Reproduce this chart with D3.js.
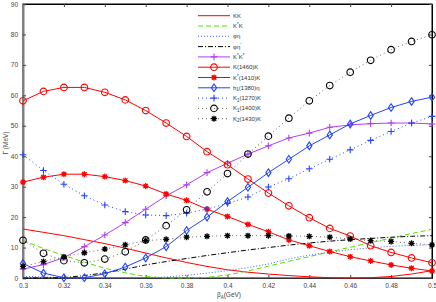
<!DOCTYPE html>
<html>
<head>
<script src="https://d3js.org/d3.v7.min.js"></script>
<style>
  body { margin: 0; background: #fff; }
  text { font-family: "Liberation Sans", Arial, sans-serif; }
</style>
</head>
<body>
<script>
// beta values (GeV)
const betas = [0.30,0.31,0.32,0.33,0.34,0.35,0.36,0.37,0.38,0.39,0.40,0.41,0.42,0.43,0.44,0.45,0.46,0.47,0.48,0.49,0.50];

// partial widths (MeV)
const KK        = [16.1,15.0,13.9,12.6,11.3,9.8,8.2,6.6,5.1,3.8,2.7,1.9,1.3,0.8,0.4,0.1,0.0,0.1,0.5,1.3,2.4];
const KstarK    = [12.3,9.7,7.4,5.2,3.2,1.7,0.5,0.0,0.0,0.2,1.0,2.3,3.9,5.5,7.0,8.6,10.1,11.6,13.1,14.6,16.0];
const phiEta    = [0.6,0.3,0.1,0,0,0,0.1,0.3,0.9,1.6,2.4,3.4,4.6,6.3,7.5,8.5,9.3,9.9,10.4,10.7,10.9];
const phiEtaP   = [0,0,0.1,0.8,1.7,2.9,4.3,5.4,6.4,7.4,8.3,9.2,10.0,10.8,11.5,12.1,12.6,13.0,13.4,13.7,13.9];
const KsKs      = [2.9,4.4,6.7,10.3,14.1,18.2,22.6,27.0,30.6,34.6,37.7,40.7,43.4,46.0,47.6,49.5,50.3,50.7,50.9,50.9,50.6];
const K1460K    = [58.2,61.3,62.6,62.6,61.0,58.5,55.0,50.9,46.5,41.5,37.2,32.5,27.9,23.7,19.8,16.3,13.8,10.6,8.4,6.6,5.0];
const Ks1410K   = [31.5,33.1,34.1,34.1,33.3,32.0,30.2,27.6,25.5,22.6,20.2,17.6,15.2,12.5,10.6,8.7,7.0,5.6,4.3,3.2,2.3];
const h1Eta     = [4.8,1.6,0.1,0.1,1.4,3.6,6.6,10.3,15.6,20.0,25.1,29.8,34.6,39.0,43.4,47.0,50.6,53.4,56.0,58.0,59.4];
const K1270K    = [40.5,35.3,30.8,27.0,24.0,21.8,20.7,20.5,21.3,22.6,24.5,26.6,29.9,32.6,35.9,39.0,42.1,45.2,48.1,50.9,53.1];
const K1400K    = [12.4,8.1,5.7,5.0,6.2,8.6,12.5,17.2,22.4,28.3,34.3,40.7,46.6,52.5,58.2,63.2,67.6,71.5,75.0,77.7,79.9];
const K1430K    = [3.8,5.4,6.9,8.3,9.5,10.9,12.3,12.7,13.4,13.7,13.9,13.9,13.9,13.8,13.7,13.4,12.8,12.3,12.0,11.4,10.9];

const xTicks = [0.30,0.32,0.34,0.36,0.38,0.40,0.42,0.44,0.46,0.48,0.50];
const yTicks = [0,10,20,30,40,50,60,70,80,90];

const series = [
  {name: [["K"],["K"]], values: KK, color: "#ff0000", dash: null, marker: null},
  {name: [["K"],["*","sup"],["K"]], values: KstarK, color: "#55dd00", dash: "5,3", marker: null},
  {name: [["φη"]], values: phiEta, color: "#4060ff", dash: "1,2", marker: null},
  {name: [["φη"],["'","sup"]], values: phiEtaP, color: "#000", dash: "5,2,1,2", marker: null},
  {name: [["K"],["*","sup"],["K"],["*","sup"]], values: KsKs, color: "#b040ee", dash: null, marker: "plus"},
  {name: [["K(1460)K"]], values: K1460K, color: "#ff0000", dash: null, marker: "circle"},
  {name: [["K"],["*","sup"],["(1410)K"]], values: Ks1410K, color: "#ff0000", dash: null, marker: "star"},
  {name: [["h"],["1","sub"],["(1380)η"]], values: h1Eta, color: "#2244ff", dash: null, marker: "diamond"},
  {name: [["K"],["1","sub"],["(1270)K"]], values: K1270K, color: "#2244ff", dash: "1,3", marker: "plus"},
  {name: [["K"],["1","sub"],["(1400)K"]], values: K1400K, color: "#000", dash: "1,3", marker: "circle", lineColor: "#666"},
  {name: [["K"],["2","sub"],["(1430)K"]], values: K1430K, color: "#000", dash: "1,3", marker: "star", lineColor: "#666"}
];

const width = 436, height = 302;
const margin = {left: 23, right: 4, top: 4, bottom: 24};

const svg = d3.select("body").append("svg").attr("width", width).attr("height", height);

const x = d3.scaleLinear().domain([0.3, 0.5]).range([margin.left, width - margin.right]);
const y = d3.scaleLinear().domain([0, 90]).range([height - margin.bottom, margin.top]);

// frame
svg.append("rect")
  .attr("x", x(0.3)).attr("y", y(90))
  .attr("width", x(0.5) - x(0.3)).attr("height", y(0) - y(90))
  .attr("fill", "none").attr("stroke", "#000").attr("stroke-width", 1);

const fmt = d => String(+d.toFixed(2));

// bottom + top axes
const xAxis = svg.append("g").attr("transform", `translate(0,${y(0)})`)
  .call(d3.axisBottom(x).tickValues(xTicks).tickSize(-3).tickPadding(5).tickFormat(fmt));
svg.append("g").attr("transform", `translate(0,${y(90)})`)
  .call(d3.axisTop(x).tickValues(xTicks).tickSize(-3).tickFormat(""));
// left + right axes
const yAxis = svg.append("g").attr("transform", `translate(${x(0.3)},0)`)
  .call(d3.axisLeft(y).tickValues(yTicks).tickSize(-3).tickPadding(5));
svg.append("g").attr("transform", `translate(${x(0.5)},0)`)
  .call(d3.axisRight(y).tickValues(yTicks).tickSize(-3).tickFormat(""));

svg.selectAll(".domain").attr("stroke", "#000");
yAxis.select(".domain").attr("stroke", "#808080").attr("stroke-width", 2);
xAxis.select(".domain").attr("stroke", "#333");
svg.selectAll(".tick line").attr("stroke", "#444");
svg.selectAll(".tick text").attr("font-size", 6.5).attr("fill", "#444");

// axis labels
const xl = svg.append("text").attr("x", 229).attr("y", 297)
  .attr("text-anchor", "middle").attr("font-size", 6.5).attr("fill", "#444");
xl.append("tspan").text("β");
xl.append("tspan").attr("font-size", 4.5).attr("dy", 1.5).text("A");
xl.append("tspan").attr("dy", -1.5).text("(GeV)");

svg.append("text")
  .attr("transform", "translate(8,143) rotate(-90)")
  .attr("text-anchor", "middle").attr("font-size", 6.5).attr("fill", "#444")
  .text("Γ (MeV)");

// markers
function drawMarker(g, type, color) {
  if (type === "circle") {
    g.append("circle").attr("r", 3.3).attr("fill", "none").attr("stroke", color).attr("stroke-width", 1.1);
  } else if (type === "plus") {
    g.append("path").attr("d", "M-3.3,0H3.3M0,-3.3V3.3").attr("stroke", color).attr("stroke-width", 1.1);
  } else if (type === "diamond") {
    g.append("path").attr("d", "M0,-3.8L2.6,0L0,3.8L-2.6,0Z").attr("fill", "none").attr("stroke", color).attr("stroke-width", 1.1);
  } else if (type === "star") {
    g.append("path").attr("d", "M-3,0H3M0,-3V3M-2.2,-2.2L2.2,2.2M-2.2,2.2L2.2,-2.2")
      .attr("stroke", color).attr("stroke-width", 1.3);
    g.append("circle").attr("r", 1.6).attr("fill", color);
  }
}

const line = d3.line().x((d, i) => x(betas[i])).y(d => y(d));
const plot = svg.append("g");

series.forEach(s => {
  plot.append("path").datum(s.values)
    .attr("d", line)
    .attr("fill", "none")
    .attr("stroke", s.lineColor || s.color)
    .attr("stroke-width", 1)
    .attr("stroke-dasharray", s.dash);
  if (s.marker) {
    s.values.forEach((v, i) => {
      const g = plot.append("g").attr("transform", `translate(${x(betas[i])},${y(v)})`);
      drawMarker(g, s.marker, s.color);
    });
  }
});

// legend
const legend = svg.append("g").attr("transform", "translate(198,15.7)");
series.forEach((s, i) => {
  const row = legend.append("g").attr("transform", `translate(0,${i * 10.3})`);
  row.append("rect").attr("x", -2).attr("y", -4.5).attr("width", 80).attr("height", 9).attr("fill", "#fff");
  row.append("line").attr("x1", 0).attr("x2", 32).attr("y1", 0).attr("y2", 0)
    .attr("stroke", s.lineColor || s.color).attr("stroke-width", 1).attr("stroke-dasharray", s.dash);
  if (s.marker) {
    const g = row.append("g").attr("transform", "translate(16,0)");
    drawMarker(g, s.marker, s.color);
  }
  const t = row.append("text").attr("x", 35).attr("y", 2).attr("font-size", 6).attr("fill", "#333");
  s.name.forEach(([txt, kind]) => {
    const ts = t.append("tspan").text(txt);
    if (kind === "sup") ts.attr("font-size", 4.5).attr("dy", -2);
    else if (kind === "sub") ts.attr("font-size", 4.5).attr("dy", 1.5);
    else ts.attr("dy", t.node().childNodes.length > 1 ? 0 : 0);
  });
  // reset baseline after sup/sub
  let shift = 0;
  t.selectAll("tspan").each(function(d, j) {
    const kind = s.name[j][1];
    const want = kind === "sup" ? -2 : kind === "sub" ? 1.5 : 0;
    d3.select(this).attr("dy", want - shift);
    shift = want;
  });
});
</script>
</body>
</html>
